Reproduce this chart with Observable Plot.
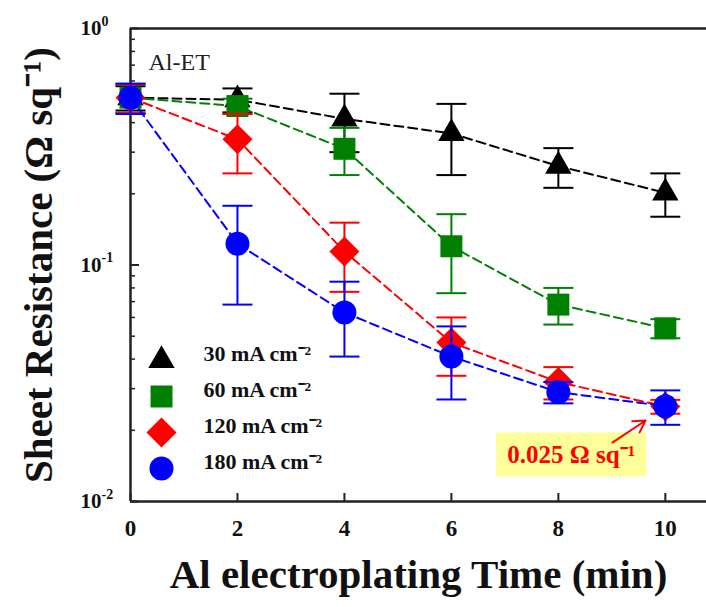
<!DOCTYPE html>
<html><head><meta charset="utf-8">
<script src="https://cdn.jsdelivr.net/npm/d3@7"></script>
<script src="https://cdn.jsdelivr.net/npm/@observablehq/plot@0.6"></script>
<style>body{margin:0;background:#fff} #chart svg{display:block}</style>
</head><body><div id="chart"></div>
<script>
// ---- data ----
const times = [0, 2, 4, 6, 8, 10];
const seriesNames = ["30 mA cm⁻²", "60 mA cm⁻²", "120 mA cm⁻²", "180 mA cm⁻²"];
const seriesColors = ["#000000", "#008000", "#ff0000", "#0000ff"];
const seriesSymbols = ["triangle", "square", "diamond2", "circle"];
const seriesR = [9.8, 12.4, 13.5, 12];
const r30  = [0.51, 0.50, 0.415, 0.36, 0.262, 0.202];
const e30  = [0.06, 0.058, 0.115, 0.12, 0.05, 0.042];
const r60  = [0.51, 0.47, 0.31, 0.12, 0.068, 0.054];
const e60  = [0.07, 0.035, 0.07, 0.044, 0.012, 0.005];
const r120 = [0.51, 0.34, 0.114, 0.047, 0.032, 0.0252];
const e120 = [0.07, 0.096, 0.037, 0.013, 0.005, 0.0017];
const r180 = [0.51, 0.123, 0.063, 0.041, 0.029, 0.0253];
const e180 = [0.075, 0.055, 0.022, 0.014, 0.003, 0.0042];
const yMajor = [0.01, 0.1, 1];
const yExp = ["-2", "-1", "0"];
const yMinor = [2,3,4,5,6,7,8,9].flatMap(m => [m * 0.01, m * 0.1]);
const xTitle = "Al electroplating Time (min)";
const yTitle = "Sheet Resistance (Ω sq⁻¹)";
const panelLabel = "Al-ET";
const noteText = "0.025 Ω sq⁻¹";
const noteAt = [{t: 8.24, v: 0.0158}];
const noteArrow = [{t1: 9.01, v1: 0.01775, t2: 9.63, v2: 0.022}];

const values = [r30, r60, r120, r180];
const errors = [e30, e60, e120, e180];

// ---- layout ----
const W = 706, H = 607, ML = 130, MR = 0, MT = 28, MB = 106;
const FW = W - ML - MR, FH = H - MT - MB;
const font = "Liberation Serif";
const capSymbol = {draw(ctx) { ctx.moveTo(-15, 0); ctx.lineTo(15, 0); }};
const boxSymbol = {draw(ctx) { ctx.rect(-75, -22, 150, 44); }};
const legendDy = [-141, -105, -69, -33];

const marks = [
  // axes lines
  Plot.ruleY([0.01, 1], {stroke: "#222", strokeWidth: 2.5}),
  Plot.ruleX([0], {stroke: "#222", strokeWidth: 2.5}),
  // inward ticks
  Plot.tickY(yMajor, {y: d => d, insetRight: FW - 9, stroke: "#222", strokeWidth: 2}),
  Plot.tickY(yMinor, {y: d => d, insetRight: FW - 5, stroke: "#222", strokeWidth: 1.5}),
  Plot.tickX(times, {x: d => d, insetTop: FH - 8, stroke: "#222", strokeWidth: 2}),
  // tick labels
  Plot.axisX(times, {anchor: "bottom", tickSize: 0, tickPadding: 18, fontSize: 23, fontWeight: "bold", fill: "#111", label: null}),
  Plot.axisY(yMajor, {anchor: "left", tickSize: 0, tickPadding: 29, tickFormat: () => "10", fontSize: 21, fontWeight: "bold", fill: "#111", label: null}),
  Plot.text(yMajor, {y: d => d, frameAnchor: "left", dx: -29, dy: -7, text: (d, i) => yExp[i], textAnchor: "start", fontSize: 14, fontWeight: "bold", fill: "#111"}),
  // titles
  Plot.text([yTitle], {frameAnchor: "left", dx: -92, rotate: -90, textAnchor: "middle", fontSize: 41, fontWeight: "bold", fill: "#111"}),
  Plot.text([xTitle], {frameAnchor: "bottom", dy: 86, textAnchor: "middle", fontSize: 41, fontWeight: "bold", fill: "#111"}),
  Plot.text([panelLabel], {frameAnchor: "top-left", dx: 18, dy: 24, textAnchor: "start", fontSize: 24, fill: "#222"})
];

seriesNames.forEach((name, i) => {
  const rows = times.map((t, j) => ({t, v: values[i][j], e: errors[i][j]}));
  const c = seriesColors[i];
  marks.push(
    Plot.line(rows, {x: "t", y: "v", stroke: c, strokeWidth: 2, strokeDasharray: "9,5"}),
    Plot.ruleX(rows, {x: "t", y1: d => d.v - d.e, y2: d => d.v + d.e, stroke: c, strokeWidth: 2}),
    Plot.dot(rows, {x: "t", y: d => d.v + d.e, symbol: capSymbol, r: 5, stroke: c, strokeWidth: 2, fill: "none"}),
    Plot.dot(rows, {x: "t", y: d => d.v - d.e, symbol: capSymbol, r: 5, stroke: c, strokeWidth: 2, fill: "none"}),
    Plot.dot(rows, {x: "t", y: "v", symbol: seriesSymbols[i], r: seriesR[i], fill: c, stroke: "none"}),
    // legend
    Plot.dot([0], {frameAnchor: "bottom-left", dx: 31, dy: legendDy[i], symbol: seriesSymbols[i], r: seriesR[i], fill: c}),
    Plot.text([name], {frameAnchor: "bottom-left", dx: 73, dy: legendDy[i], textAnchor: "start", fontSize: 22, fontWeight: "bold", fill: "#111"})
  );
});

marks.push(
  Plot.dot(noteAt, {x: "t", y: "v", symbol: boxSymbol, r: 5, fill: "#ffff99", stroke: "none"}),
  Plot.text(noteAt, {x: "t", y: "v", text: () => noteText, fontSize: 25, fontWeight: "bold", fill: "#ff0000"}),
  Plot.arrow(noteArrow, {x1: "t1", y1: "v1", x2: "t2", y2: "v2", stroke: "#ff0000", strokeWidth: 2, headLength: 10})
);

const chart = Plot.plot({
  width: W, height: H,
  marginLeft: ML, marginRight: MR, marginTop: MT, marginBottom: MB,
  x: {domain: [0, 10.77], axis: null},
  y: {type: "log", domain: [0.01, 1], axis: null},
  style: {fontFamily: font, background: "#fff", overflow: "visible"},
  marks
});
document.getElementById("chart").append(chart);
</script>
</body></html>
